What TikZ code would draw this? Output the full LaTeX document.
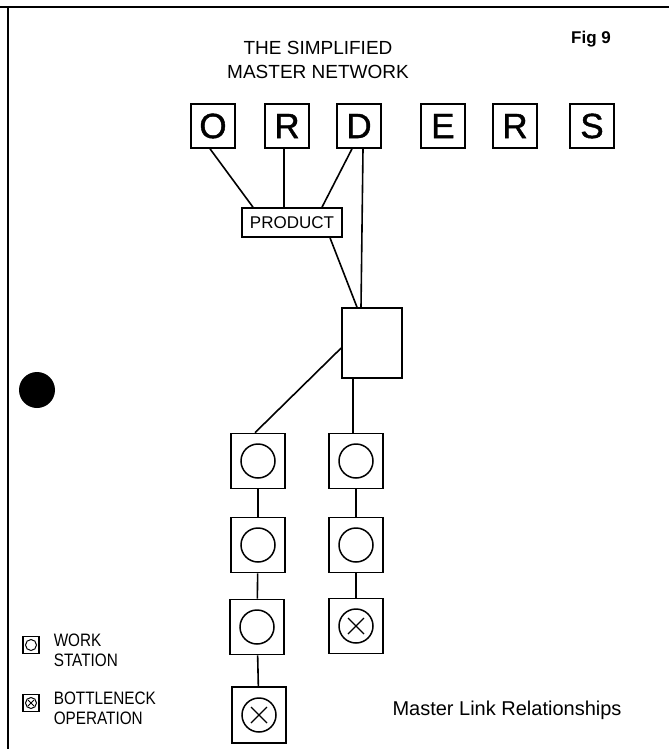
\documentclass[tikz,border=0pt]{standalone}
\usepackage{fontspec}
\setmainfont{Liberation Sans}
\newfontfamily\letterfont[FakeBold=1.2]{Liberation Sans}
\newfontfamily\narrowfont[FakeStretch=0.85]{Liberation Sans}
\usetikzlibrary{calc}
\begin{document}
\begin{tikzpicture}[x=1pt,y=-1pt,
  line width=1.6pt,
  letterbox/.style={draw, line width=1.6pt, minimum width=44pt, minimum height=44pt, inner sep=0pt,
    font=\letterfont\fontsize{35}{35}\selectfont},
  wsbox/.style={draw, line width=1.6pt, minimum width=54pt, minimum height=55pt, inner sep=0pt,
    path picture={\draw[line width=1.5pt] (path picture bounding box.center) circle (17pt);}},
  bnbox/.style={draw, line width=1.6pt, minimum width=54pt, minimum height=55pt, inner sep=0pt,
    path picture={\draw[line width=1.5pt] (path picture bounding box.center) circle (17pt);
      \draw[line width=1.3pt] ([shift={(-8pt,-8pt)}]path picture bounding box.center) -- ([shift={(8pt,8pt)}]path picture bounding box.center);
      \draw[line width=1.3pt] ([shift={(-8pt,8pt)}]path picture bounding box.center) -- ([shift={(8pt,-8pt)}]path picture bounding box.center);}},
  legws/.style={draw, line width=1.3pt, minimum width=16pt, minimum height=17pt, inner sep=0pt,
    path picture={\draw[line width=1pt] (path picture bounding box.center) circle (5.5pt);}},
  legbn/.style={draw, line width=1.3pt, minimum width=16pt, minimum height=17pt, inner sep=0pt,
    path picture={\draw[line width=1pt] (path picture bounding box.center) circle (5.5pt);
      \draw[line width=0.9pt] ([shift={(-3pt,-3pt)}]path picture bounding box.center) -- ([shift={(3pt,3pt)}]path picture bounding box.center);
      \draw[line width=0.9pt] ([shift={(-3pt,3pt)}]path picture bounding box.center) -- ([shift={(3pt,-3pt)}]path picture bounding box.center);}},
  legtext/.style={anchor=west, align=left, inner sep=0pt, font=\narrowfont\fontsize{18}{20}\selectfont},
  link/.style={draw, line width=1.6pt}
]
\useasboundingbox (0,0) rectangle (669,749);
\fill[white] (0,0) rectangle (669,749);

% frame
\draw[line width=1.8pt] (0,7) -- (669,7);
\draw[line width=1.8pt] (8,7) -- (8,749);

% punch hole
\fill[black] (37,390) circle (18);

% titles
\node[align=center, inner sep=0pt, font=\fontsize{19}{24}\selectfont] (title) at (318,60) {THE SIMPLIFIED\\MASTER NETWORK};
\node[inner sep=0pt, font=\bfseries\fontsize{17}{17}\selectfont] (fig) at (591,39) {Fig 9};
\node[inner sep=0pt, font=\fontsize{20}{20}\selectfont] (caption) at (507,710) {Master Link Relationships};

% ORDERS
\node[letterbox] (O) at (213,126) {O};
\node[letterbox] (R1) at (287,126) {R};
\node[letterbox] (D) at (359,126) {D};
\node[letterbox] (E) at (443,126) {E};
\node[letterbox] (R2) at (515,126) {R};
\node[letterbox] (S) at (592,126) {S};

% product and central box
\node[draw, line width=1.6pt, minimum width=100pt, minimum height=29pt, inner sep=0pt,
  font=\fontsize{17}{17}\selectfont] (prod) at (292,222.5) {PRODUCT};
\node[draw, line width=1.6pt, minimum width=60pt, minimum height=70pt] (big) at (372,343) {};

% work stations
\node[wsbox] (L1) at (258,461) {};
\node[wsbox] (L2) at (258,545) {};
\node[wsbox] (L3) at (257,627) {};
\node[bnbox, minimum height=56pt] (L4) at (259,715) {};
\node[wsbox] (C1) at (356,461) {};
\node[wsbox] (C2) at (356,545) {};
\node[bnbox] (C3) at (356,626) {};

% connectors
\draw[link] ([xshift=-3pt]O.south) -- ([xshift=-39pt]prod.north);
\draw[link] ([xshift=-3pt]R1.south) -- ([xshift=-8pt]prod.north);
\draw[link] ([xshift=-7pt]D.south) -- ([xshift=30pt]prod.north);
\draw[link] ([xshift=4pt]D.south) -- ([xshift=-11pt]big.north);
\draw[link] ([xshift=38pt]prod.south) -- ([xshift=-15pt]big.north);
\draw[link] ([yshift=-5pt]big.west) -- ([xshift=-3pt]L1.north);
\draw[link] ([xshift=-19pt]big.south) -- ([xshift=-3pt]C1.north);
\draw[link] (L1) -- (L2);
\draw[link] (L2) -- (L3);
\draw[link] (L3) -- (L4);
\draw[link] (C1) -- (C2);
\draw[link] (C2) -- (C3);

% legend
\node[legws] (lw) at (31,645) {};
\node[legtext] (lwt) at (53,650) {WORK\\STATION};
\node[legbn] (lb) at (31,703) {};
\node[legtext] (lbt) at (53,708) {BOTTLENECK\\OPERATION};
\end{tikzpicture}
\end{document}
